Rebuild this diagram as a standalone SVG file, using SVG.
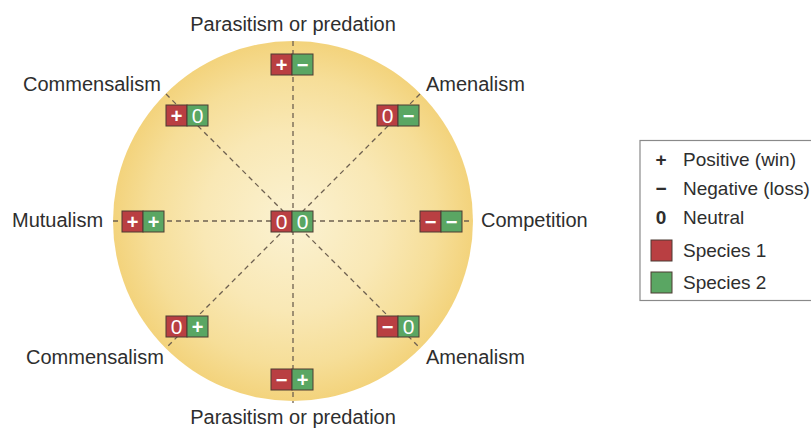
<svg xmlns="http://www.w3.org/2000/svg" width="811" height="428" viewBox="0 0 811 428">
<defs>
<radialGradient id="bg" cx="293" cy="221" r="180" gradientUnits="userSpaceOnUse">
<stop offset="0" stop-color="#fbf2d2"/>
<stop offset="0.5" stop-color="#f9e8b5"/>
<stop offset="0.8" stop-color="#f6de98"/>
<stop offset="1" stop-color="#f3d37c"/>
</radialGradient>
<style>
.lbl{font-family:"Liberation Sans",Arial,sans-serif;font-size:20px;fill:#2e2e2e}
.r{fill:#b93f42;stroke:#4d3b33;stroke-width:1}
.g{fill:#5aa663;stroke:#4d3b33;stroke-width:1}
.s{font-family:"Liberation Sans",Arial,sans-serif;font-size:20px;fill:#ffffff;text-anchor:middle}
.z{font-size:21px}
.b{font-weight:bold}
.d{stroke:#6e6050;stroke-width:1.3;stroke-dasharray:5 4;fill:none}
.leg{font-family:"Liberation Sans",Arial,sans-serif;font-size:19px;fill:#2e2e2e}
</style>
</defs>
<rect width="811" height="428" fill="#ffffff"/>
<circle cx="293" cy="221" r="180" fill="url(#bg)"/>
<g id="connectors">
<line class="d" x1="293" y1="41" x2="293" y2="403"/>
<line class="d" x1="113" y1="221" x2="473" y2="221"/>
<line class="d" x1="166" y1="94" x2="420" y2="348"/>
<line class="d" x1="420" y1="94" x2="166" y2="348"/>
</g>
<g id="n-top">
<rect class="r" x="271" y="54" width="21" height="21"/><rect class="g" x="292" y="54" width="21" height="21"/>
<text class="s b" x="281.5" y="71.5">+</text><text class="s b" x="302.5" y="71.5">−</text>
<text class="lbl" x="293" y="31" text-anchor="middle">Parasitism or predation</text>
</g>
<g id="n-tl">
<rect class="r" x="166" y="105" width="21" height="21"/><rect class="g" x="187" y="105" width="21" height="21"/>
<text class="s b" x="176.5" y="122.5">+</text><text class="s z" x="197.5" y="123">0</text>
<text class="lbl" x="23" y="91">Commensalism</text>
</g>
<g id="n-tr">
<rect class="r" x="377" y="105" width="21" height="21"/><rect class="g" x="398" y="105" width="21" height="21"/>
<text class="s z" x="387.5" y="123">0</text><text class="s b" x="408.5" y="122.5">−</text>
<text class="lbl" x="426" y="91">Amenalism</text>
</g>
<g id="n-l">
<rect class="r" x="122" y="211" width="21" height="21"/><rect class="g" x="143" y="211" width="21" height="21"/>
<text class="s b" x="132.5" y="228.5">+</text><text class="s b" x="153.5" y="228.5">+</text>
<text class="lbl" x="12" y="227">Mutualism</text>
</g>
<g id="n-c">
<rect class="r" x="271" y="211" width="21" height="21"/><rect class="g" x="292" y="211" width="21" height="21"/>
<text class="s z" x="281.5" y="229">0</text><text class="s z" x="302.5" y="229">0</text>
</g>
<g id="n-r">
<rect class="r" x="420" y="211" width="21" height="21"/><rect class="g" x="441" y="211" width="21" height="21"/>
<text class="s b" x="430.5" y="228.5">−</text><text class="s b" x="451.5" y="228.5">−</text>
<text class="lbl" x="481" y="227">Competition</text>
</g>
<g id="n-bl">
<rect class="r" x="166" y="316" width="21" height="21"/><rect class="g" x="187" y="316" width="21" height="21"/>
<text class="s z" x="176.5" y="334">0</text><text class="s b" x="197.5" y="333.5">+</text>
<text class="lbl" x="26" y="364">Commensalism</text>
</g>
<g id="n-br">
<rect class="r" x="377" y="316" width="21" height="21"/><rect class="g" x="398" y="316" width="21" height="21"/>
<text class="s b" x="387.5" y="333.5">−</text><text class="s z" x="408.5" y="334">0</text>
<text class="lbl" x="426" y="364">Amenalism</text>
</g>
<g id="n-bottom">
<rect class="r" x="271" y="369" width="21" height="21"/><rect class="g" x="292" y="369" width="21" height="21"/>
<text class="s b" x="281.5" y="386.5">−</text><text class="s b" x="302.5" y="386.5">+</text>
<text class="lbl" x="293" y="424" text-anchor="middle">Parasitism or predation</text>
</g>
<g id="legend">
<rect x="640" y="140.5" width="200" height="160" fill="#ffffff" stroke="#8a8a8a" stroke-width="1.2"/>
<text class="leg b" x="661" y="166" text-anchor="middle">+</text>
<text class="leg" x="683" y="166">Positive (win)</text>
<text class="leg b" x="661" y="195" text-anchor="middle">−</text>
<text class="leg" x="683" y="195">Negative (loss)</text>
<text class="leg b" x="661" y="224" text-anchor="middle">0</text>
<text class="leg" x="683" y="224">Neutral</text>
<rect class="r" x="651" y="240" width="21" height="21"/>
<text class="leg" x="683" y="257">Species 1</text>
<rect class="g" x="651" y="272" width="21" height="21"/>
<text class="leg" x="683" y="289">Species 2</text>
</g>
</svg>
